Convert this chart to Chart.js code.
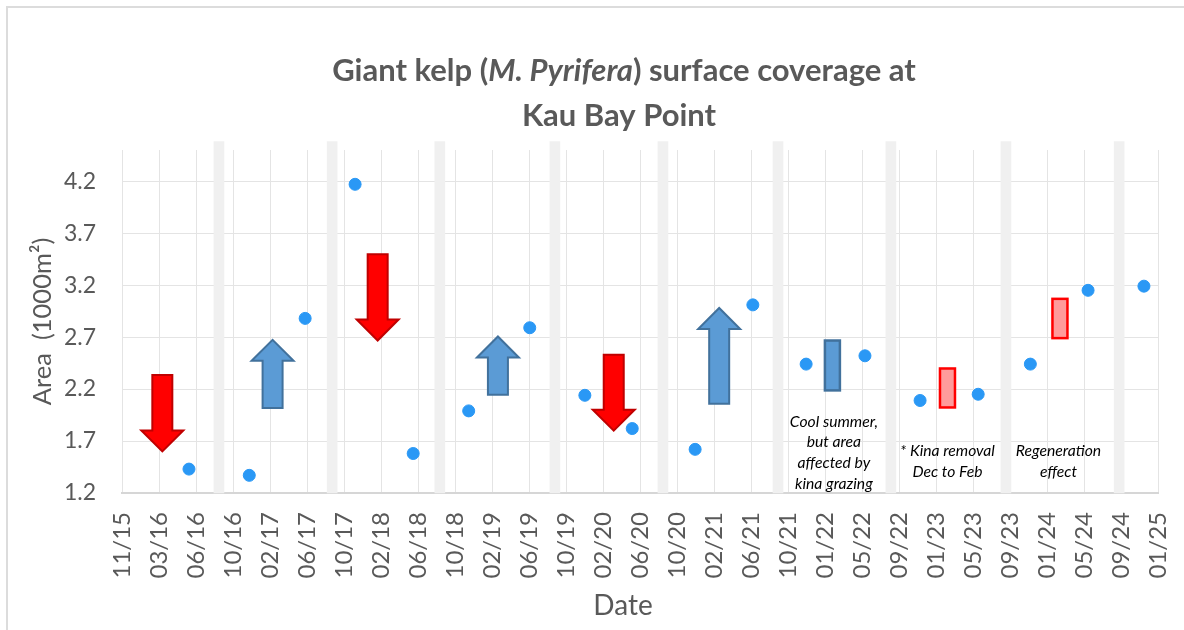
<!DOCTYPE html>
<html>
<head>
<meta charset="utf-8">
<script src="https://cdn.jsdelivr.net/npm/chart.js@4.4.1/dist/chart.umd.min.js"></script>
<style>
  body { margin: 0; background: #fff; }
  #frame { position: absolute; left: 6px; top: 6px; width: 1300px; height: 700px; border: 2px solid #dcdcdc; }
  #wrap { position: absolute; left: 0; top: 0; width: 1184px; height: 630px; }
</style>
</head>
<body>
<div id="frame"></div>
<div id="wrap"><canvas id="kelp" width="1184" height="630"></canvas></div>
<script>
// x axis: one slot per date label, survey dates sit between them
const dateLabels = ['11/15','03/16','06/16','10/16','02/17','06/17','10/17','02/18','06/18','10/18',
  '02/19','06/19','10/19','02/20','06/20','10/20','02/21','06/21','10/21','01/22',
  '05/22','09/22','01/23','05/23','09/23','01/24','05/24','09/24','01/25'];
const yTicks = [1.2, 1.7, 2.2, 2.7, 3.2, 3.7, 4.2];

// survey points (x in label slots, area in 1000 m2)
const surveyX = [1.81, 3.44, 4.95, 6.30, 7.87, 9.37, 11.02, 12.51, 13.79, 15.49, 17.05, 18.49,
  20.08, 21.57, 23.14, 24.55, 26.11, 27.62];
const surveyArea = [1.43, 1.37, 2.88, 4.17, 1.58, 1.99, 2.79, 2.14, 1.82, 1.62, 3.01, 2.44,
  2.52, 2.09, 2.15, 2.44, 3.15, 3.19];

// grey year separators
const bandX = [2.62, 5.68, 8.59, 11.70, 14.62, 17.73, 20.78, 23.89, 26.95];
const bandTop = 4.58;

// trend arrows: tail -> tip
const arrowX = [1.09, 4.07, 6.91, 10.16, 13.29, 16.14];
const arrowFrom = [2.335, 2.017, 3.498, 2.145, 2.53, 2.059];
const arrowTo = [1.60, 2.674, 2.667, 2.706, 1.80, 2.98];

// small boxes for the later seasons
const boxX = [19.2, 22.31, 25.35];
const boxLow = [2.187, 2.023, 2.69];
const boxHigh = [2.667, 2.398, 3.068];
const boxKind = ['blue', 'pink', 'pink'];

// notes under the boxes
const noteX = [19.24, 22.31, 25.31];
const noteY = [1.888, 1.6, 1.6];
const noteLines = [
  ['Cool summer,', 'but area', 'affected by', 'kina grazing'],
  ['* Kina removal', 'Dec to Feb'],
  ['Regeneration', 'effect']
];

const titleLine1 = ['Giant kelp (', 'M. Pyrifera', ') surface coverage at'];
const titleLine2 = 'Kau Bay Point';
const xTitle = 'Date';

const grey = '#595959';
const FONT = 'Lato';

const shapes = {
  red: { fill: '#ff0000', stroke: '#c00000' },
  blue: { fill: '#5b9bd5', stroke: '#41719c' },
  pink: { fill: '#ff9b9b', stroke: '#ff0000' }
};

const marksPlugin = {
  id: 'marks',
  beforeDatasetsDraw(chart) {
    const { ctx, scales: { x, y } } = chart;
    ctx.save();
    ctx.lineWidth = 2;
    ctx.lineJoin = 'miter';
    arrowX.forEach((v, i) => {
      const cx = x.getPixelForValue(v);
      const tail = y.getPixelForValue(arrowFrom[i]);
      const tip = y.getPixelForValue(arrowTo[i]);
      const dir = tip > tail ? 1 : -1;
      const hb = tip - dir * 21;
      const st = shapes[dir > 0 ? 'red' : 'blue'];
      ctx.beginPath();
      ctx.moveTo(cx - 10, tail);
      ctx.lineTo(cx + 10, tail);
      ctx.lineTo(cx + 10, hb);
      ctx.lineTo(cx + 21, hb);
      ctx.lineTo(cx, tip);
      ctx.lineTo(cx - 21, hb);
      ctx.lineTo(cx - 10, hb);
      ctx.closePath();
      ctx.fillStyle = st.fill;
      ctx.strokeStyle = st.stroke;
      ctx.fill();
      ctx.stroke();
    });
    ctx.lineWidth = 2.5;
    boxX.forEach((v, i) => {
      const cx = x.getPixelForValue(v);
      const top = y.getPixelForValue(boxHigh[i]);
      const bot = y.getPixelForValue(boxLow[i]);
      const st = shapes[boxKind[i]];
      ctx.fillStyle = st.fill;
      ctx.strokeStyle = st.stroke;
      ctx.fillRect(cx - 7.5, top, 15, bot - top);
      ctx.strokeRect(cx - 7.5, top, 15, bot - top);
    });
    ctx.fillStyle = '#000';
    ctx.font = 'italic 15.7px ' + FONT;
    ctx.textAlign = 'center';
    ctx.textBaseline = 'middle';
    noteX.forEach((v, i) => {
      const cx = x.getPixelForValue(v);
      const cy = y.getPixelForValue(noteY[i]);
      noteLines[i].forEach((t, j) => ctx.fillText(t, cx, cy + j * 20.8));
    });
    ctx.restore();
  },
  afterDraw(chart) {
    const ctx = chart.ctx;
    ctx.save();
    ctx.fillStyle = grey;
    ctx.textBaseline = 'alphabetic';
    ctx.textAlign = 'left';
    const fonts = ['bold 31px ' + FONT, 'italic bold 31px ' + FONT, 'bold 31px ' + FONT];
    let w = 0;
    titleLine1.forEach((t, i) => { ctx.font = fonts[i]; w += ctx.measureText(t).width; });
    let px = 624 - w / 2;
    titleLine1.forEach((t, i) => {
      ctx.font = fonts[i];
      ctx.fillText(t, px, 81);
      px += ctx.measureText(t).width;
    });
    ctx.font = fonts[0];
    ctx.textAlign = 'center';
    ctx.fillText(titleLine2, 619, 126);
    // axis title sits a bit left of the plot centre in the original
    ctx.font = '28px ' + FONT;
    ctx.textBaseline = 'middle';
    ctx.fillText(xTitle, 623, 606);
    ctx.restore();
  }
};

new Chart(document.getElementById('kelp'), {
  type: 'scatter',
  data: {
    datasets: [
      {
        label: 'Surface coverage',
        data: surveyX.map((v, i) => ({ x: v, y: surveyArea[i] })),
        backgroundColor: '#2a98f5',
        borderColor: '#2a98f5',
        pointRadius: 6,
        pointHoverRadius: 6,
        order: 1
      },
      {
        type: 'bar',
        label: 'Year',
        data: bandX.map(v => ({ x: v, y: [yTicks[0], bandTop] })),
        backgroundColor: '#f0f0f0',
        barThickness: 10,
        clip: false,
        order: 2
      }
    ]
  },
  options: {
    responsive: false,
    animation: false,
    layout: { padding: { top: 150, right: 26, left: 0, bottom: 0 } },
    plugins: { legend: { display: false }, tooltip: { enabled: false } },
    scales: {
      x: {
        type: 'linear',
        min: 0,
        max: dateLabels.length - 1,
        offset: false,
        afterBuildTicks: s => { s.ticks = dateLabels.map((_, i) => ({ value: i })); },
        afterFit: s => { s.height = 137; s.paddingLeft = 0; s.paddingRight = 0; },
        grid: { color: '#e4e4e4', drawTicks: false, offset: false },
        border: { display: true, color: '#d6d6d6', width: 2 },
        ticks: {
          autoSkip: false,
          maxRotation: 90,
          minRotation: 90,
          padding: 19,
          color: grey,
          font: { family: FONT, size: 24 },
          callback: v => dateLabels[v]
        },
        title: { display: false }
      },
      y: {
        type: 'linear',
        min: 1.2,
        max: 4.5,
        beginAtZero: false,
        afterBuildTicks: s => { s.ticks = yTicks.map(v => ({ value: v })); },
        afterFit: s => { s.width = 122; },
        grid: { color: '#e4e4e4', drawTicks: false },
        border: { display: false },
        ticks: {
          padding: 26,
          color: grey,
          font: { family: FONT, size: 23 },
          callback: v => v.toFixed(1)
        },
        title: {
          display: true,
          text: 'Area  (1000m²)',
          color: grey,
          font: { family: FONT, size: 25.5 },
          padding: { top: 27, bottom: 0 }
        }
      }
    }
  },
  plugins: [marksPlugin]
});
</script>
</body>
</html>
